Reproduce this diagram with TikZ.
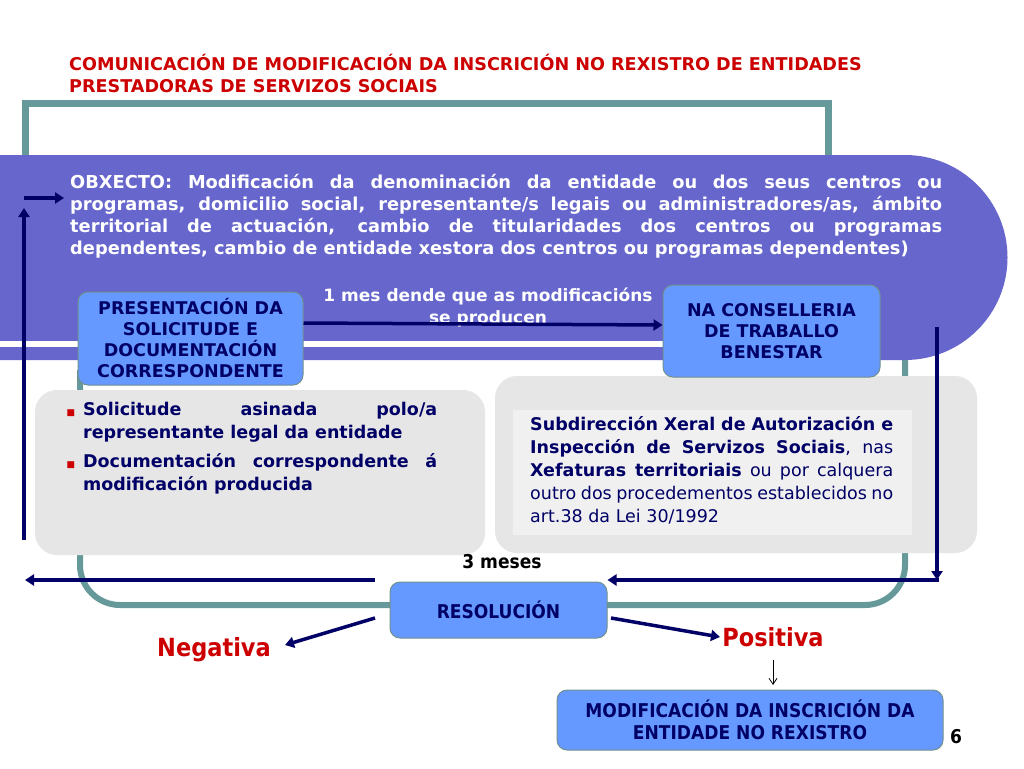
\documentclass[tikz,border=0pt]{standalone}
\usepackage{fontspec}
\setmainfont{DejaVu Sans}
\newfontfamily\cond{DejaVu Sans Condensed}
\usetikzlibrary{arrows.meta}
\definecolor{teal1}{RGB}{102,153,153}
\definecolor{purp}{RGB}{102,102,204}
\definecolor{lblue}{RGB}{102,153,255}
\definecolor{navy}{RGB}{0,0,102}
\definecolor{gry}{RGB}{230,230,230}
\definecolor{red1}{RGB}{204,0,0}
\tikzset{
 bbox/.style={draw=teal1!60!gray,line width=1pt,fill=lblue,rounded corners=10pt,text=navy,font=\bfseries\fontsize{17.5}{21}\selectfont,align=center,inner sep=0pt},
 arr/.style={draw=navy,line width=3.5pt,-{Triangle[length=9pt,width=11pt]}},
}
\begin{document}
\begin{tikzpicture}[x=1pt,y=-1pt]
\hyphenpenalty=10000
\useasboundingbox (0,0) rectangle (1024,768);
\fill[white] (0,0) rectangle (1024,768);
% title
\node[anchor=west,text=red1,font=\bfseries\fontsize{17.6}{22}\selectfont,align=left,inner sep=0pt] (title) at (69,73) {COMUNICACIÓN DE MODIFICACIÓN DA INSCRICIÓN NO REXISTRO DE ENTIDADES\\PRESTADORAS DE SERVIZOS SOCIAIS};
% teal top frame
\draw[teal1,line width=7pt] (25,160) -- (25,103) -- (828,103) -- (828,160);
% lower teal U
\draw[teal1,line width=6pt,rounded corners=40pt] (80,370) -- (80,605) -- (905,605) -- (905,350);
% purple band
\fill[purp] (0,155) -- (905,155) arc[start angle=-90,end angle=90,radius=102.5] -- (0,360) -- cycle;
\fill[white] (0,341) rectangle (700,347);
% gray boxes
\fill[gry,rounded corners=22pt] (35,390) rectangle (485,555);
\fill[gry,rounded corners=22pt] (495,376) rectangle (977,553);
\fill[gray!12] (513,410) rectangle (912,535);
% objecto text
\node[anchor=north west,text=white,text width=872pt,align=justify,inner sep=0pt,font=\bfseries\fontsize{17.8}{22}\selectfont] (obx) at (70,174) {OBXECTO: Modificación da denominación da entidade ou dos seus centros ou programas, domicilio social, representante/s legais ou administradores/as, ámbito territorial de actuación, cambio de titularidades dos centros ou programas dependentes, cambio de entidade xestora dos centros ou programas dependentes)};
% nodes
\node[bbox,minimum width=225pt,minimum height=93pt] (pres) at (190.5,338.5) {PRESENTACIÓN DA\\SOLICITUDE E\\DOCUMENTACIÓN\\CORRESPONDENTE};
\node[bbox,minimum width=217pt,minimum height=92pt] (cons) at (771.5,331) {NA CONSELLERIA\\DE TRABALLO\\BENESTAR};
\node[bbox,minimum width=217pt,minimum height=56pt,font=\cond\bfseries\fontsize{19}{22}\selectfont] (res) at (498.5,610) {RESOLUCIÓN};
\node[bbox,minimum width=386pt,minimum height=60pt,font=\cond\bfseries\fontsize{19}{22}\selectfont] (mod) at (750,720) {MODIFICACIÓN DA INSCRICIÓN DA\\ENTIDADE NO REXISTRO};
% bullets
\node[anchor=north west,text=navy,text width=354pt,align=justify,inner sep=0pt,font=\bfseries\fontsize{17.5}{22.5}\selectfont] (bul) at (83,402) {%
\makebox[0pt][r]{\textcolor{red1}{\fontsize{9}{9}\selectfont■}\hspace{8pt}}Solicitude asinada polo/a representante legal da entidade\\[7pt]
\makebox[0pt][r]{\textcolor{red1}{\fontsize{9}{9}\selectfont■}\hspace{8pt}}Documentación correspondente á modificación producida};
\node[anchor=north west,text=navy,text width=363pt,align=justify,inner sep=0pt,font=\fontsize{17.5}{23}\selectfont] (sub) at (530,416) {\textbf{Subdirección Xeral de Autorización e Inspección de Servizos Sociais}, nas \textbf{Xefaturas territoriais} ou por calquera outro dos procedementos establecidos no art.38 da Lei 30/1992};
% labels
\node[text=white,font=\bfseries\fontsize{17}{22}\selectfont,align=center] (mes) at (488,307) {1 mes dende que as modificacións\\se producen};
\node[font=\cond\bfseries\fontsize{19}{22}\selectfont] (tres) at (502,562) {3 meses};
\node[text=red1,font=\cond\bfseries\fontsize{25}{28}\selectfont] (neg) at (214,650) {Negativa};
\node[text=red1,font=\cond\bfseries\fontsize{25}{28}\selectfont] (pos) at (773,637) {Positiva};
\node[font=\cond\bfseries\fontsize{19}{22}\selectfont] (six) at (956,737) {6};
% arrows
\coordinate (a0) at (24,540); \coordinate (a1) at (24,208);
\coordinate (b0) at (24,198); \coordinate (b1) at (64,198);
\draw[arr] (a0) -- (a1);
\draw[arr] (b0) -- (b1);
\draw[arr] (pres.east|-0,323) -- (cons.west|-0,325);
\coordinate (c0) at (937,327); \coordinate (c1) at (937,580);
\draw[arr] (c0) -- (c1);
\draw[arr] (939,580) -- (res.east|-0,580);
\draw[arr] (res.west|-0,580) ++(-15,0) -- (25,580);
\draw[arr] (375,618) -- (285,645);
\draw[arr] (611,618) -- (720,637);
\draw[black,line width=0.8pt,-{Straight Barb[length=6pt,width=8pt]}] (pos.south) ++(0,10) -- (773,685);
\end{tikzpicture}
\end{document}
